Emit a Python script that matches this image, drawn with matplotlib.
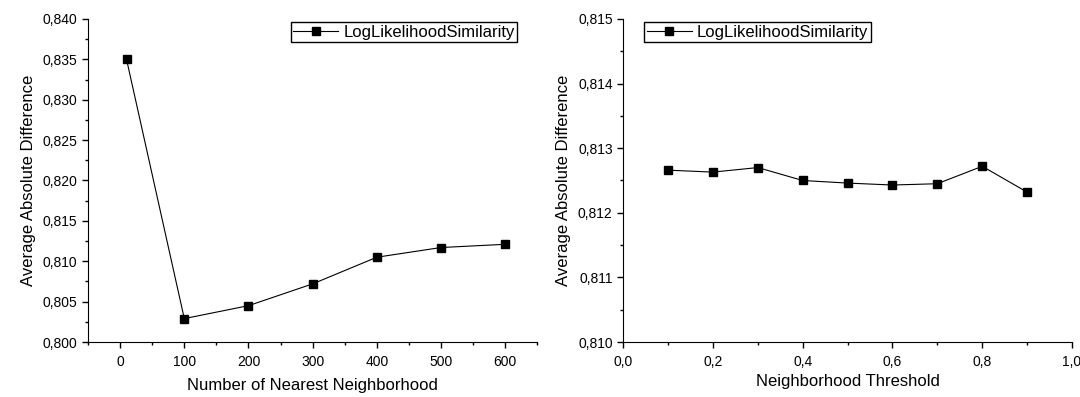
import matplotlib
matplotlib.use("Agg")
import matplotlib.pyplot as plt
from matplotlib.ticker import MultipleLocator, FuncFormatter

plt.rcParams['font.family'] = ['Liberation Sans', 'DejaVu Sans']

# data
k_values = [10, 100, 200, 300, 400, 500, 600]
k_mad = [0.8350, 0.8029, 0.8045, 0.8072, 0.8105, 0.8117, 0.8121]

thresholds = [0.1, 0.2, 0.3, 0.4, 0.5, 0.6, 0.7, 0.8, 0.9]
thr_mad = [0.81266, 0.81263, 0.81270, 0.81250, 0.81246, 0.81243, 0.81245, 0.81272, 0.81232]

series_name = "LogLikelihoodSimilarity"


def comma_fmt(decimals):
    return FuncFormatter(lambda v, p: f"{v:.{decimals}f}".replace(".", ","))


def style_axes(ax):
    ax.spines['top'].set_visible(False)
    ax.spines['right'].set_visible(False)
    ax.tick_params(which='major', direction='out', length=4, width=1, labelsize=10)
    ax.tick_params(which='minor', direction='out', length=2.5, width=1)
    ax.tick_params(axis='x', pad=5)


def add_legend(ax, loc, anchor):
    ax.legend(loc=loc, bbox_to_anchor=anchor, fontsize=12, fancybox=False,
              edgecolor='black', framealpha=1, borderpad=0.15, handlelength=2.7,
              handletextpad=0.3, numpoints=1, borderaxespad=0)


fig = plt.figure(figsize=(10.8, 3.97), dpi=100)
ax1 = fig.add_axes([0.0815, 0.1385, 0.416, 0.8137])
ax2 = fig.add_axes([0.577, 0.1385, 0.4156, 0.8137])

# left: number of neighbours
ax1.plot(k_values, k_mad, '-s', color='black', lw=0.8, markersize=5.5, label=series_name)
ax1.set_xlim(-50, 650)
ax1.set_ylim(0.800, 0.840)
ax1.xaxis.set_major_locator(MultipleLocator(100))
ax1.xaxis.set_minor_locator(MultipleLocator(50))
ax1.yaxis.set_major_locator(MultipleLocator(0.005))
ax1.yaxis.set_minor_locator(MultipleLocator(0.0025))
ax1.yaxis.set_major_formatter(comma_fmt(3))
ax1.set_xlabel("Number of Nearest Neighborhood", fontsize=12, labelpad=7)
ax1.set_ylabel("Average Absolute Difference", fontsize=12, labelpad=5)
style_axes(ax1)
add_legend(ax1, 'upper right', (0.955, 0.99))

# right: neighbourhood threshold
ax2.plot(thresholds, thr_mad, '-s', color='black', lw=0.8, markersize=5.5, label=series_name)
ax2.set_xlim(0.0, 1.0)
ax2.set_ylim(0.810, 0.815)
ax2.xaxis.set_major_locator(MultipleLocator(0.2))
ax2.xaxis.set_minor_locator(MultipleLocator(0.1))
ax2.yaxis.set_major_locator(MultipleLocator(0.001))
ax2.yaxis.set_minor_locator(MultipleLocator(0.0005))
ax2.xaxis.set_major_formatter(comma_fmt(1))
ax2.yaxis.set_major_formatter(comma_fmt(3))
ax2.set_xlabel("Neighborhood Threshold", fontsize=12, labelpad=4)
ax2.set_ylabel("Average Absolute Difference", fontsize=12, labelpad=5)
style_axes(ax2)
add_legend(ax2, 'upper left', (0.047, 0.99))

fig.savefig("out.png", dpi=100)
